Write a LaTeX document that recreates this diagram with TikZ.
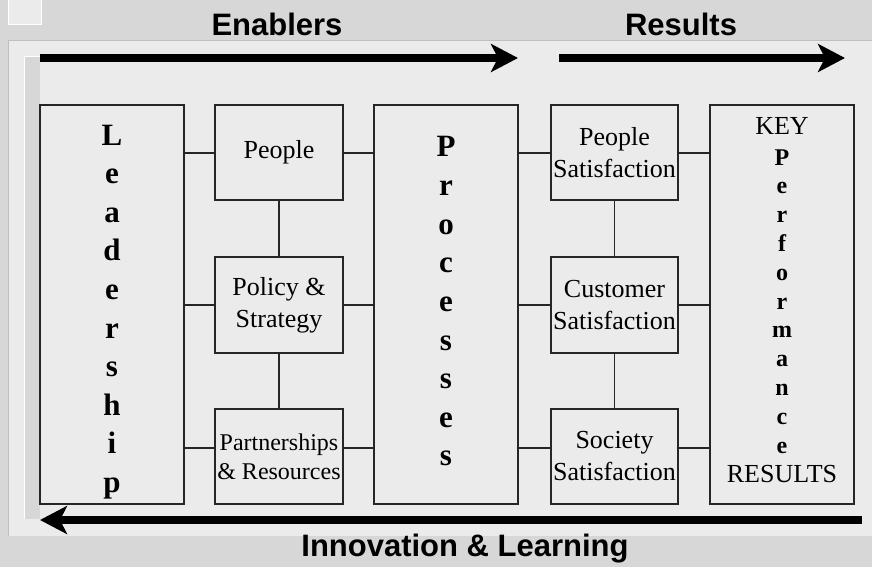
\documentclass[tikz,border=0pt]{standalone}
\usepackage{fontspec}
\setmainfont{Liberation Serif}
\newfontfamily\titlefont{Liberation Sans}
\usetikzlibrary{arrows.meta}

\definecolor{marble}{HTML}{D7D7D7}
\definecolor{panel}{HTML}{EBEBEB}

\tikzset{
	box/.style={draw=black!85, line width=1.2pt, fill=panel, inner sep=0pt},
	lbl/.style={font=\fontsize{26}{32}\selectfont, align=center},
	bigchar/.style={font=\fontsize{31}{36}\selectfont\bfseries, inner sep=0pt},
	smallchar/.style={font=\fontsize{24}{28}\selectfont\bfseries, inner sep=0pt},
	title/.style={font=\titlefont\fontsize{31}{36}\selectfont\bfseries, inner sep=0pt},
	link/.style={draw=black!85, line width=1.2pt},
	flow/.style={line width=8pt, -{Stealth[length=27pt, width=28pt, inset=7pt]}},
}

\begin{document}
\begin{tikzpicture}[x=1pt, y=-1pt]
\useasboundingbox (0,0) rectangle (872,567);
\fill[marble] (0,0) rectangle (872,567);

% panel and its frame
\fill[panel] (8,0) rectangle (41,25);
\draw[white, line width=1pt] (8,25) -- (8,0) (8,25) -- (41,25) -- (41,0);
\fill[panel] (8,41) rectangle (872,536);
\draw[black!25, line width=1pt] (8,536) -- (8,41) -- (872,41);
\fill[marble] (24,57) rectangle (40,519);
\draw[white, line width=1pt] (24,519) -- (24,57) -- (40,57);

% titles
\node[title, anchor=base] (enab) at (277,36) {Enablers};
\node[title, anchor=base] (res) at (681,36) {Results};
\node[title, anchor=base] (innov) at (465,556) {Innovation \& Learning};

% arrows
\coordinate (e0) at (40,58);
\coordinate (e1) at (518,58);
\coordinate (s0) at (559,58);
\coordinate (s1) at (845,58);
\coordinate (i0) at (862,520);
\coordinate (i1) at (40,520);
\draw[flow] (e0) -- (e1);
\draw[flow] (s0) -- (s1);
\draw[flow] (i0) -- (i1);

% boxes
\node[box, minimum width=144pt, minimum height=399pt] (lead) at (112,304.5) {};
\node[box, lbl, minimum width=128pt, minimum height=95pt] (ppl) at (279,152.5) {People};
\node[box, lbl, minimum width=128pt, minimum height=96pt] (pol) at (279,305) {Policy \&\\Strategy};
\node[box, lbl, font=\fontsize{24}{29}\selectfont, minimum width=128pt, minimum height=95pt] (part) at (279,456.5) {Partnerships\\\& Resources};
\node[box, minimum width=144pt, minimum height=399pt] (proc) at (446,304.5) {};
\node[box, lbl, minimum width=127pt, minimum height=95pt] (psat) at (614.5,152.5) {People\\Satisfaction};
\node[box, lbl, minimum width=127pt, minimum height=96pt] (csat) at (614.5,305) {Customer\\Satisfaction};
\node[box, lbl, minimum width=127pt, minimum height=95pt] (ssat) at (614.5,456.5) {Society\\Satisfaction};
\node[box, minimum width=144pt, minimum height=399pt] (kpr) at (782,304.5) {};

% letters down the tall boxes
\foreach[count=\i] \c in {L,e,a,d,e,r,s,h,i,p}{
	\node[bigchar, anchor=base] (ld\i) at (112,106.4+38.6*\i) {\c};
}
\foreach[count=\i] \c in {P,r,o,c,e,s,s,e,s}{
	\node[bigchar, anchor=base] (pr\i) at (446,118.4+38.6*\i) {\c};
}
\node[lbl, inner sep=0pt, anchor=base] (key) at (782,135) {KEY};
\foreach[count=\i] \c in {P,e,r,f,o,r,m,a,n,c,e}{
	\node[smallchar, anchor=base] (kp\i) at (782,136.2+28.8*\i) {\c};
}
\node[lbl, inner sep=0pt, anchor=base] (kres) at (782,482) {RESULTS};

% connectors
\coordinate (r1) at (0,153);
\coordinate (r2) at (0,305);
\coordinate (r3) at (0,448);

\foreach \u/\v/\r in {
	lead/ppl/r1,lead/pol/r2,lead/part/r3%
	,ppl/proc/r1,pol/proc/r2,part/proc/r3%
	,proc/psat/r1,proc/csat/r2,proc/ssat/r3%
	,psat/kpr/r1,csat/kpr/r2,ssat/kpr/r3%
}{
	\draw[link] (\u.east |- \r) -- (\v.west |- \r);
}

\foreach \u/\v in {
	ppl/pol,pol/part,psat/csat,csat/ssat%
}{
	\draw[link] (\u.south) -- (\v.north);
}

\end{tikzpicture}
\end{document}
